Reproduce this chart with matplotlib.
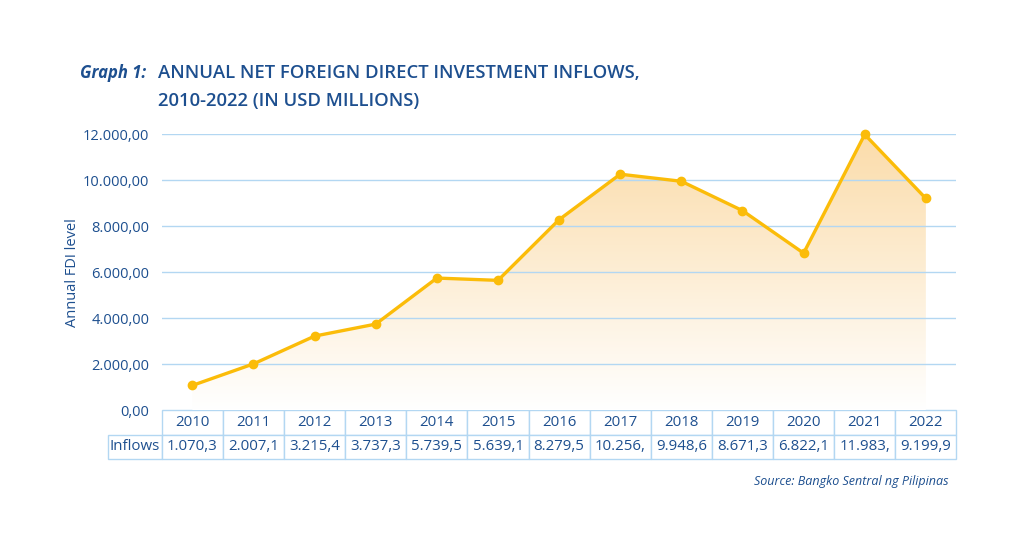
# Annual net FDI inflows, Philippines 2010-2022
import numpy as np
import matplotlib.pyplot as plt
from matplotlib.table import Table
from matplotlib.colors import LinearSegmentedColormap
from matplotlib.patches import Polygon

plt.rcParams['font.family'] = ['Open Sans', 'DejaVu Sans']

# Data
years = ['2010', '2011', '2012', '2013', '2014', '2015', '2016',
         '2017', '2018', '2019', '2020', '2021', '2022']
inflows = [1070.3, 2007.1, 3215.4, 3737.3, 5739.5, 5639.1, 8279.5,
           10256.0, 9948.6, 8671.3, 6822.1, 11983.0, 9199.9]
inflow_labels = ['1.070,3', '2.007,1', '3.215,4', '3.737,3', '5.739,5', '5.639,1', '8.279,5',
                 '10.256,', '9.948,6', '8.671,3', '6.822,1', '11.983,', '9.199,9']
yticks = [0, 2000, 4000, 6000, 8000, 10000, 12000]
ytick_labels = ['0,00', '2.000,00', '4.000,00', '6.000,00', '8.000,00', '10.000,00', '12.000,00']

navy = '#1d4f8f'
gold = '#fbbc09'
grid_blue = '#b3d7f2'

fig = plt.figure(figsize=(10.24, 5.46), dpi=100)
ax = fig.add_axes([0.158, 0.249, 0.776, 0.5054])

x = np.arange(len(years))
ax.set_xlim(-0.5, len(years) - 0.5)
ax.set_ylim(0, 12000)

# Gradient fill under the line
cmap = LinearSegmentedColormap.from_list('fade', ['#ffffff', '#fbdcaa'])
grad = np.linspace(0, 1, 256).reshape(-1, 1)
img = ax.imshow(grad, cmap=cmap, aspect='auto', origin='lower',
                extent=[-0.5, len(years) - 0.5, 0, 12000], zorder=1)
verts = [(x[0], 0)] + list(zip(x, inflows)) + [(x[-1], 0)]
poly = Polygon(verts, closed=True, transform=ax.transData, facecolor='none', edgecolor='none')
ax.add_patch(poly)
img.set_clip_path(poly)

# Grid lines
for v in yticks[1:]:
    ax.axhline(v, color=grid_blue, lw=1, zorder=2)

ax.plot(x, inflows, color=gold, lw=2.4, marker='o', markersize=6, zorder=4, clip_on=False)

ax.set_yticks(yticks)
ax.set_yticklabels(ytick_labels, color=navy, fontsize=10.5)
ax.set_xticks([])
ax.tick_params(axis='y', length=0, pad=9)
for s in ax.spines.values():
    s.set_visible(False)
ax.set_ylabel('Annual FDI level', color=navy, fontsize=10.5, labelpad=2)

# Data table under the chart
lab_w = 0.068
col_w = 1.0 / len(years)
row_h = 0.0888
tab = Table(ax, bbox=[-lab_w, -2 * row_h, 1 + lab_w, 2 * row_h])
corner = tab.add_cell(0, 0, lab_w, row_h, text='')
corner.visible_edges = 'open'
for j, yr in enumerate(years):
    tab.add_cell(0, j + 1, col_w, row_h, text=yr, loc='center')
tab.add_cell(1, 0, lab_w, row_h, text='Inflows', loc='center')
for j, lab in enumerate(inflow_labels):
    tab.add_cell(1, j + 1, col_w, row_h, text=lab, loc='center')
tab.auto_set_font_size(False)
tab.set_fontsize(10.8)
for cell in tab.get_celld().values():
    cell.set_edgecolor(grid_blue)
    cell.set_linewidth(1)
    cell.get_text().set_color(navy)
    cell.PAD = 0.02
ax.add_table(tab)

# Titles
fig.text(0.078, 0.858, 'Graph 1:', color=navy, fontsize=12, fontweight='bold', style='italic')
fig.text(0.154, 0.858, 'ANNUAL NET FOREIGN DIRECT INVESTMENT INFLOWS,', color=navy,
         fontsize=13.3, fontweight='semibold')
fig.text(0.154, 0.806, '2010-2022 (IN USD MILLIONS)', color=navy,
         fontsize=13.3, fontweight='semibold')
fig.text(0.926, 0.111, 'Source: Bangko Sentral ng Pilipinas', color=navy,
         fontsize=9, style='italic', ha='right')

fig.savefig('out.png', dpi=100, facecolor='white')
